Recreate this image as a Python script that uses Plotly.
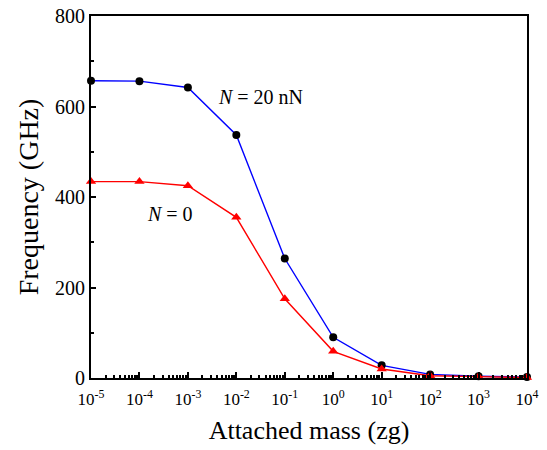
import plotly.graph_objects as go

mass = [1e-5, 1e-4, 1e-3, 1e-2, 1e-1, 1e0, 1e1, 1e2, 1e3, 1e4]
freq_n20 = [657, 656, 642, 537, 264, 90, 28, 8, 4, 2]
freq_n0 = [434, 434, 425, 355, 175, 59, 20, 5, 3, 1]
xtick_vals = [1e-5, 1e-4, 1e-3, 1e-2, 1e-1, 1e0, 1e1, 1e2, 1e3, 1e4]
xtick_text = ["10<sup>-5</sup>", "10<sup>-4</sup>", "10<sup>-3</sup>", "10<sup>-2</sup>",
              "10<sup>-1</sup>", "10<sup>0</sup>", "10<sup>1</sup>", "10<sup>2</sup>",
              "10<sup>3</sup>", "10<sup>4</sup>"]

FONT = "Liberation Serif, Times New Roman, serif"

fig = go.Figure()
fig.add_trace(go.Scatter(
    x=mass, y=freq_n20, mode="lines+markers",
    line=dict(color="#0000FF", width=1.4),
    marker=dict(symbol="circle", color="black", size=8),
    showlegend=False, cliponaxis=False))
fig.add_trace(go.Scatter(
    x=mass, y=freq_n0, mode="lines+markers",
    line=dict(color="#FF0000", width=1.4),
    marker=dict(symbol="triangle-up", color="#FF0000", size=9),
    showlegend=False, cliponaxis=False))

fig.update_layout(
    width=547, height=450,
    margin=dict(l=91, r=20, t=16, b=72, autoexpand=False),
    paper_bgcolor="white", plot_bgcolor="white",
    font=dict(family=FONT, color="black"),
    annotations=[
        dict(text="<i>N</i> = 20 nN", xref="paper", yref="paper", x=0.287, y=0.776,
             xanchor="left", yanchor="middle", showarrow=False,
             font=dict(size=20, family=FONT)),
        dict(text="<i>N</i> = 0", xref="paper", yref="paper", x=0.124, y=0.453,
             xanchor="left", yanchor="middle", showarrow=False,
             font=dict(size=20, family=FONT)),
    ],
)
fig.update_xaxes(
    type="log", range=[-5, 4], automargin=False,
    tickvals=xtick_vals, ticktext=xtick_text, ticklabeloverflow="allow",
    ticklabelstandoff=5,
    ticks="inside", ticklen=6, tickwidth=2, tickcolor="black",
    minor=dict(ticks="inside", ticklen=3, tickwidth=1.5, tickcolor="black", dtick="D1", showgrid=False),
    showline=True, linewidth=2, linecolor="black", mirror=True,
    showgrid=False, zeroline=False,
    tickfont=dict(size=17, family=FONT),
    title=dict(text="Attached mass (zg)", font=dict(size=26, family=FONT), standoff=12),
)
fig.update_yaxes(
    range=[0, 800], dtick=200, automargin=False, ticklabeloverflow="allow",
    ticks="inside", ticklen=5, tickwidth=2, tickcolor="black",
    minor=dict(ticks="inside", ticklen=3, tickwidth=1.5, tickcolor="black", dtick=100, showgrid=False),
    showline=True, linewidth=2, linecolor="black", mirror=True,
    showgrid=False, zeroline=False,
    tickfont=dict(size=20, family=FONT),
    title=dict(text="Frequency (GHz)", font=dict(size=28, family=FONT), standoff=8),
)

# remove the browser's default 8px page margin so the figure sits at the window's corner
fig.write_html("out.html", config={"displayModeBar": False},
               post_script="document.body.style.margin='0';")
